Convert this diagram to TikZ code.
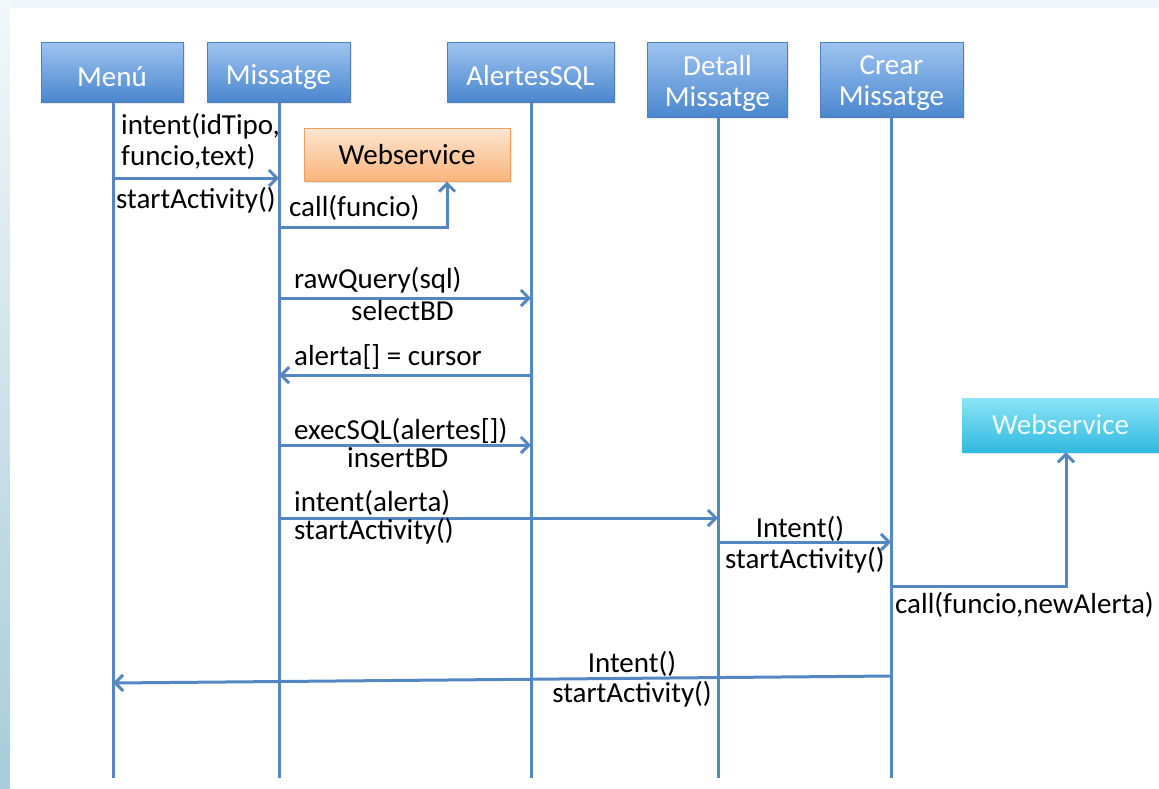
\documentclass[tikz,border=0pt]{standalone}
\usepackage{fontspec}
\setmainfont{Carlito}
\usetikzlibrary{arrows.meta,shadows}
\definecolor{ln}{RGB}{84,134,194}
\definecolor{bxd}{RGB}{80,128,188}
\definecolor{bxt}{RGB}{158,196,240}
\definecolor{bxb}{RGB}{74,134,206}
\definecolor{ord}{RGB}{236,160,96}
\definecolor{ort}{RGB}{253,230,210}
\definecolor{orb}{RGB}{249,180,122}
\definecolor{cyt}{RGB}{140,228,246}
\definecolor{cyb}{RGB}{48,186,224}
\definecolor{pagebg}{RGB}{241,246,250}
\definecolor{stript}{RGB}{242,248,250}
\definecolor{stripb}{RGB}{168,204,218}
\tikzset{
  boxshadow/.style={drop shadow={opacity=0.18, shadow xshift=1.5pt, shadow yshift=-2pt}},
  actor/.style={draw=bxd, line width=1pt, top color=bxt, bottom color=bxb, boxshadow, inner sep=0pt},
  actortext/.style={text=white, font=\fontsize{29}{31}\selectfont, align=center, inner sep=0pt},
  wsorange/.style={draw=ord, line width=1pt, top color=ort, bottom color=orb, boxshadow, text=black,
    font=\fontsize{29}{31}\selectfont, inner sep=0pt},
  wscyan/.style={draw=none, top color=cyt, bottom color=cyb, boxshadow, text={rgb,255:red,238;green,250;blue,255},
    font=\fontsize{29}{31}\selectfont, inner sep=0pt},
  life/.style={draw=ln, line width=3pt},
  msg/.style={draw=ln, line width=3pt, -{Straight Barb[length=8pt,width=16pt,line width=3pt]}},
  lbl/.style={font=\fontsize{29}{30}\selectfont, inner sep=0pt, text=black},
}
\begin{document}
\begin{tikzpicture}[x=1pt,y=-1pt]
\useasboundingbox (0,0) rectangle (1159,788);
\fill[pagebg] (0,0) rectangle (1159,788);
\shade[top color=stript, bottom color=stripb] (0,0) rectangle (10,788);
\fill[white] (10,8) rectangle (1159,788);

% actors
\node[actor, minimum width=142pt, minimum height=60pt] (menu) at (112,72) {};
\node[actor, minimum width=143pt, minimum height=60pt] (miss) at (278.5,72) {};
\node[actor, minimum width=167pt, minimum height=60pt] (sql) at (530.5,72) {};
\node[actor, minimum width=140pt, minimum height=75pt] (det) at (717.5,79.5) {};
\node[actor, minimum width=143pt, minimum height=75pt] (crear) at (891.5,79.5) {};
\node[actortext, yshift=-5pt] (menuT) at (menu.center) {Menú};
\node[actortext, yshift=-5pt] (missT) at (miss.center) {Missatge};
\node[actortext, yshift=-5pt] (sqlT) at (sql.center) {AlertesSQL};
\node[actortext, yshift=-4pt] (detT) at (det.center) {Detall\\Missatge};
\node[actortext, yshift=-4pt] (crearT) at (crear.center) {Crear\\Missatge};

\node[wsorange, minimum width=206pt, minimum height=53pt] (ws1) at (407,154.5) {Webservice};
\node[wscyan, minimum width=197pt, minimum height=54pt] (ws2) at (1060.5,425) {Webservice};

% lifelines
\coordinate (menuE) at (113,778);
\coordinate (missE) at (279,778);
\coordinate (sqlE) at (531,778);
\coordinate (detE) at (718,778);
\coordinate (crearE) at (891,778);
\draw[life] (menu.south -| menuE) -- (menuE);
\draw[life] (miss.south -| missE) -- (missE);
\draw[life] (sql.south -| sqlE) -- (sqlE);
\draw[life] (det.south -| detE) -- (detE);
\draw[life] (crear.south -| crearE) -- (crearE);

% messages
\draw[msg] (menuE |- 0,178) -- (missE |- 0,178);
\node[lbl, anchor=base west] (l1) at (121,134) {intent(idTipo,};
\node[lbl, anchor=base west] (l2) at (121,165) {funcio,text)};
\node[lbl, anchor=base west] (l3) at (116,208) {startActivity()};

\coordinate (c1) at (447,227);
\draw[msg] (missE |- c1) -- (c1) -- (c1 |- ws1.south);
\node[lbl, anchor=base west] (l4) at (289,216) {call(funcio)};

\draw[msg] (missE |- 0,298) -- (sqlE |- 0,298);
\node[lbl, anchor=base west] (l5) at (294,288) {rawQuery(sql)};
\node[lbl, anchor=base west] (l6) at (351,320) {selectBD};

\draw[msg] (sqlE |- 0,375) -- (missE |- 0,375);
\node[lbl, anchor=base west] (l7) at (294,365) {alerta[] = cursor};

\draw[msg] (missE |- 0,445) -- (sqlE |- 0,445);
\node[lbl, anchor=base west] (l8) at (294,439) {execSQL(alertes[])};
\node[lbl, anchor=base west] (l9) at (347,467) {insertBD};

\draw[msg] (missE |- 0,518) -- (detE |- 0,518);
\node[lbl, anchor=base west] (l10) at (294,511) {intent(alerta)};
\node[lbl, anchor=base west] (l11) at (294,539) {startActivity()};

\draw[msg] (detE |- 0,542) -- (crearE |- 0,542);
\node[lbl, anchor=base] (l12) at (800,537) {Intent()};
\node[lbl, anchor=base west] (l13) at (725,568) {startActivity()};

\coordinate (c2) at (1066,586);
\draw[msg] (crearE |- c2) -- (c2) -- (c2 |- ws2.south);
\node[lbl, anchor=base west] (l14) at (895,613) {call(funcio,newAlerta)};

\draw[msg] (crearE |- 0,676) -- (menuE |- 0,683);
\node[lbl, anchor=base] (l15) at (632,672) {Intent()};
\node[lbl, anchor=base] (l16) at (632,702) {startActivity()};
\end{tikzpicture}
\end{document}
